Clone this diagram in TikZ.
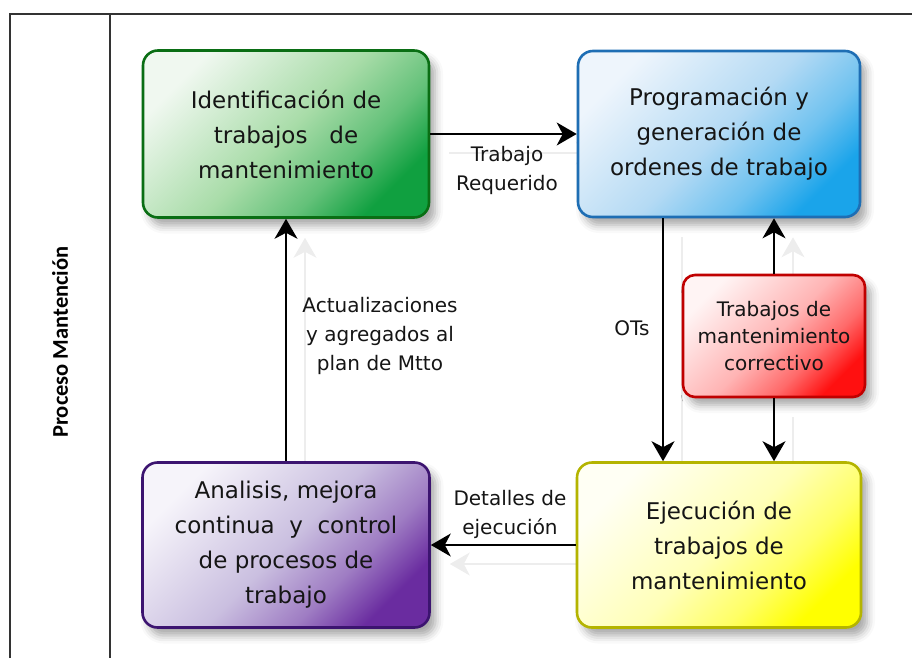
\documentclass[tikz,border=0pt]{standalone}
\usepackage{fontspec}
\setmainfont{DejaVu Sans}
\newfontfamily\lanefont{Carlito}
\usetikzlibrary{arrows.meta,shadows.blur,calc}
\pgfdeclarelayer{background}
\pgfsetlayers{background,main}
\definecolor{frameclr}{HTML}{333333}
\definecolor{txt}{HTML}{151515}
\definecolor{gA}{HTML}{F0F8F0}\definecolor{gM}{HTML}{A8DCA8}\definecolor{gC}{HTML}{10A040}\definecolor{gD}{HTML}{0A6E14}
\definecolor{bA}{HTML}{EEF5FC}\definecolor{bM}{HTML}{B4DAF4}\definecolor{bC}{HTML}{1AA4EA}\definecolor{bD}{HTML}{1E6EB4}
\definecolor{pA}{HTML}{F6F4FA}\definecolor{pM}{HTML}{CABFE0}\definecolor{pC}{HTML}{6A2CA0}\definecolor{pD}{HTML}{3C1470}
\definecolor{yA}{HTML}{FFFFF4}\definecolor{yM}{HTML}{FFFFB8}\definecolor{yC}{HTML}{FFFF00}\definecolor{yD}{HTML}{B4B400}
\definecolor{rA}{HTML}{FFF4F4}\definecolor{rM}{HTML}{FFB4B4}\definecolor{rC}{HTML}{FF1010}\definecolor{rD}{HTML}{C00000}
\pgfdeclareverticalshading{gshade}{100bp}{color(0bp)=(gC); color(25bp)=(gC); color(36bp)=(gC!45!gM); color(50bp)=(gM); color(75bp)=(gA); color(100bp)=(gA)}
\pgfdeclareverticalshading{bshade}{100bp}{color(0bp)=(bC); color(25bp)=(bC); color(36bp)=(bC!45!bM); color(50bp)=(bM); color(75bp)=(bA); color(100bp)=(bA)}
\pgfdeclareverticalshading{pshade}{100bp}{color(0bp)=(pC); color(25bp)=(pC); color(36bp)=(pC!45!pM); color(50bp)=(pM); color(75bp)=(pA); color(100bp)=(pA)}
\pgfdeclareverticalshading{yshade}{100bp}{color(0bp)=(yC); color(25bp)=(yC); color(36bp)=(yC!45!yM); color(50bp)=(yM); color(75bp)=(yA); color(100bp)=(yA)}
\pgfdeclareverticalshading{rshade}{100bp}{color(0bp)=(rC); color(25bp)=(rC); color(36bp)=(rC!45!rM); color(50bp)=(rM); color(75bp)=(rA); color(100bp)=(rA)}
\tikzset{
  procbox/.style={rounded corners=15pt, line width=2.6pt, align=center, text=txt,
    inner sep=0pt, font=\fontsize{23}{35}\selectfont, shading angle=45,
    blur shadow={shadow xshift=6pt, shadow yshift=-8pt, shadow blur radius=8pt, shadow opacity=35}},
  greenbox/.style={procbox, draw=gD, shading=gshade},
  bluebox/.style={procbox, draw=bD, shading=bshade},
  purplebox/.style={procbox, draw=pD, shading=pshade},
  yellowbox/.style={procbox, draw=yD, shading=yshade},
  redbox/.style={procbox, rounded corners=12pt, font=\fontsize{20}{27}\selectfont, draw=rD, shading=rshade},
  arr/.style={line width=1.8pt, -{Stealth[length=20pt, width=23pt, inset=6pt]}},
  ghostarr/.style={arr, draw=black!7, fill=black!7},
  lbl/.style={align=center, text=txt, inner sep=0pt, font=\fontsize{20}{29}\selectfont},
  frame/.style={line width=2pt, draw=frameclr}
}
\begin{document}
\begin{tikzpicture}[x=1pt,y=-1pt]
\useasboundingbox (0,0) rectangle (912,658);
% lane frame
\draw[frame] (10,658) -- (10,14) -- (912,14);
\draw[frame] (110,14) -- (110,658);
\node[rotate=90, inner sep=0pt, text=black, font=\lanefont\bfseries\fontsize{22.5}{27}\selectfont] (lane) at (60,342) {Proceso Mantención};

% process boxes
\node[greenbox, minimum width=286pt, minimum height=167pt] (ident) at (286,134) {Identificación de\\trabajos\ \ \ de\\mantenimiento};
\node[bluebox, minimum width=282pt, minimum height=166pt] (prog) at (719,134) {Programación y\\generación de\\ordenes de trabajo};
\node[purplebox, minimum width=287pt, minimum height=165pt] (anal) at (286,545) {Analisis, mejora\\continua\ \ y\ \ control\\de procesos de\\trabajo};
\node[yellowbox, minimum width=284pt, minimum height=165pt] (ejec) at (719,545) {Ejecución de\\trabajos de\\mantenimiento};
\node[redbox, minimum width=182pt, minimum height=122pt] (corr) at (774,336) {Trabajos de\\mantenimiento\\correctivo};

% faint connector shadows
\begin{pgfonlayer}{background}
\begin{scope}[transform canvas={shift={(19pt,-19pt)}}]
\draw[ghostarr] (ident.east) -- (prog.west);
\draw[ghostarr] ([xshift=-56pt]prog.south) -- ([xshift=-56pt]ejec.north);
\draw[ghostarr] (corr.north) -- (corr.north |- prog.south);
\draw[ghostarr] (corr.south) -- (corr.south |- ejec.north);
\draw[ghostarr] (ejec.west) -- (anal.east);
\draw[ghostarr] (anal.north) -- (ident.south);
\end{scope}
\end{pgfonlayer}

% connectors
\draw[arr] (ident.east) -- (prog.west);
\draw[arr] ([xshift=-56pt]prog.south) -- ([xshift=-56pt]ejec.north);
\draw[arr] (corr.north) -- (corr.north |- prog.south);
\draw[arr] (corr.south) -- (corr.south |- ejec.north);
\draw[arr] (ejec.west) -- (anal.east);
\draw[arr] (anal.north) -- (ident.south);

% labels
\node[lbl] (lreq) at (507,170) {Trabajo\\Requerido};
\node[lbl] (lots) at (632,328) {OTs};
\node[lbl] (lact) at (380,336) {Actualizaciones\\y agregados al\\plan de Mtto};
\node[lbl] (ldet) at (510,514) {Detalles de\\ejecución};
\end{tikzpicture}
\end{document}
